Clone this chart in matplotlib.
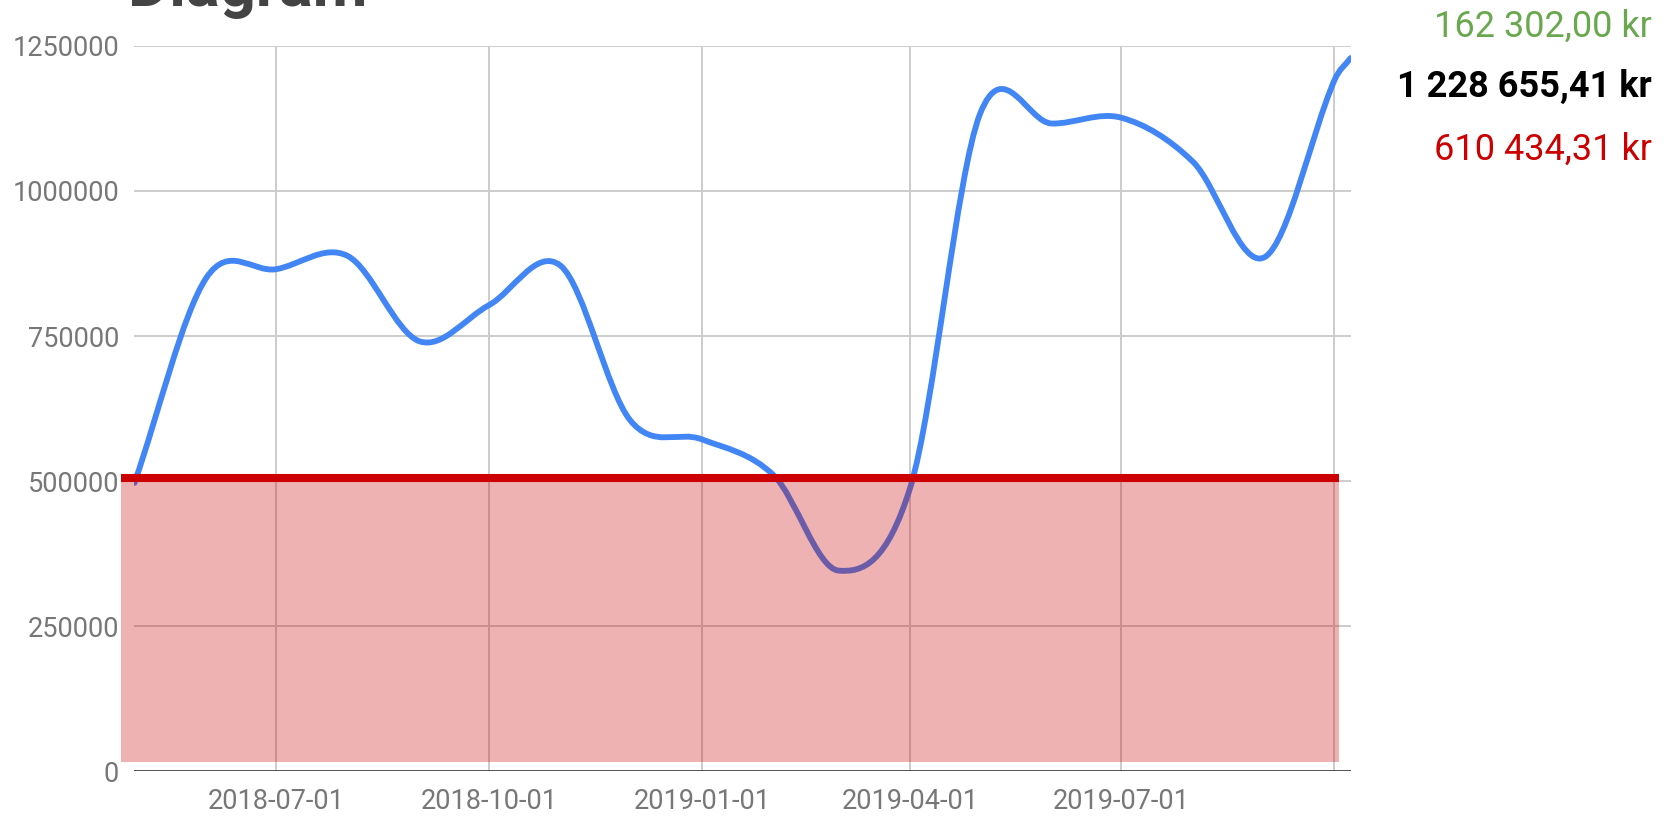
import numpy as np
import matplotlib
matplotlib.use("Agg")
import matplotlib.pyplot as plt
import matplotlib.dates as mdates
from matplotlib.path import Path
from matplotlib.patches import PathPatch
from datetime import datetime

plt.rcParams['font.family'] = ['Roboto', 'DejaVu Sans']

# saldo per månad
dates = ["2018-05-01", "2018-06-01", "2018-07-01", "2018-08-01", "2018-09-01",
         "2018-10-01", "2018-11-01", "2018-12-01", "2019-01-01", "2019-02-01",
         "2019-03-01", "2019-04-01", "2019-05-01", "2019-06-01", "2019-07-01",
         "2019-08-01", "2019-09-01", "2019-10-01", "2019-10-08"]
values = [497000, 850000, 865000, 888000, 741000,
          803000, 871000, 605000, 572000, 510000,
          346000, 490000, 1132000, 1116000, 1126000,
          1050000, 886000, 1190000, 1228655.41]

# gränsvärde (röd linje + yta)
limit_value = 506000
limit_floor = 16000
limit_start = "2018-04-25"
limit_end = "2019-10-03"

tick_dates = ["2018-07-01", "2018-10-01", "2019-01-01", "2019-04-01", "2019-07-01", "2019-10-01"]
tick_labels = ["2018-07-01", "2018-10-01", "2019-01-01", "2019-04-01", "2019-07-01", ""]
y_ticks = [0, 250000, 500000, 750000, 1000000, 1250000]

summary_texts = ["162 302,00 kr", "1 228 655,41 kr", "610 434,31 kr"]
summary_colors = ["#6aa84f", "#000000", "#cc0000"]
summary_weights = ["normal", "bold", "normal"]


def to_num(ds):
    return mdates.date2num([datetime.strptime(d, "%Y-%m-%d") for d in ds])


def smooth_path(x, y):
    # mjuk kurva genom punkterna (kubiska bezier-segment)
    x = np.asarray(x, float)
    y = np.asarray(y, float)
    n = len(x)
    slope = np.empty(n)
    slope[0] = (y[1] - y[0]) / (x[1] - x[0])
    slope[-1] = (y[-1] - y[-2]) / (x[-1] - x[-2])
    slope[1:-1] = (y[2:] - y[:-2]) / (x[2:] - x[:-2])
    verts = [(x[0], y[0])]
    codes = [Path.MOVETO]
    for i in range(n - 1):
        h = (x[i + 1] - x[i]) / 3
        verts += [(x[i] + h, y[i] + slope[i] * h),
                  (x[i + 1] - h, y[i + 1] - slope[i + 1] * h),
                  (x[i + 1], y[i + 1])]
        codes += [Path.CURVE4] * 3
    return Path(verts, codes)


x = to_num(dates)
lx = to_num([limit_start, limit_end])

fig = plt.figure(figsize=(16.64, 8.19), dpi=100)
ax = fig.add_axes([0.0808, 0.058, 0.7308, 0.8862])

ax.set_xlim(x[0], x[-1])
ax.set_ylim(0, 1250000)

# rutnät
for t in to_num(tick_dates):
    ax.axvline(t, color='#cccccc', lw=1.4, zorder=0.5)
for v in y_ticks[1:]:
    ax.axhline(v, color='#cccccc', lw=1.4, zorder=0.5)
ax.axhline(0, color='#333333', lw=1.9, zorder=2.5)

# saldokurva
ax.add_patch(PathPatch(smooth_path(x, values), fill=False, edgecolor='#4285f4',
                       lw=4.2, capstyle='round', joinstyle='round', zorder=2))

# röd yta och linje
ax.fill_between(lx, [limit_floor, limit_floor], [limit_value, limit_value],
                color='#cc0000', alpha=0.3, lw=0, zorder=3, clip_on=False)
ax.plot(lx, [limit_value, limit_value], color='#cc0000', lw=5.8,
        solid_capstyle='butt', zorder=4, clip_on=False)

for s in ax.spines.values():
    s.set_visible(False)

ax.set_xticks(to_num(tick_dates))
ax.set_xticklabels(tick_labels)
ax.set_yticks(y_ticks)
ax.set_yticklabels([str(v) for v in y_ticks])
ax.tick_params(axis='both', length=0, labelsize=19.5, labelcolor='#777777')
ax.tick_params(axis='y', pad=11)
ax.tick_params(axis='x', pad=12)

# titel (avskuren i överkant)
fig.text(128 / 1664, 1 - 6 / 819, "Diagram", fontsize=45.5, fontweight='bold',
         color='#444444', va='baseline', ha='left')

# summor till höger
baselines = [36.5, 97, 160]
for txt, col, w, b in zip(summary_texts, summary_colors, summary_weights, baselines):
    fig.text(1652 / 1664, 1 - b / 819, txt, fontsize=26, color=col, fontweight=w,
             ha='right', va='baseline')

fig.savefig("out.png", dpi=100)
